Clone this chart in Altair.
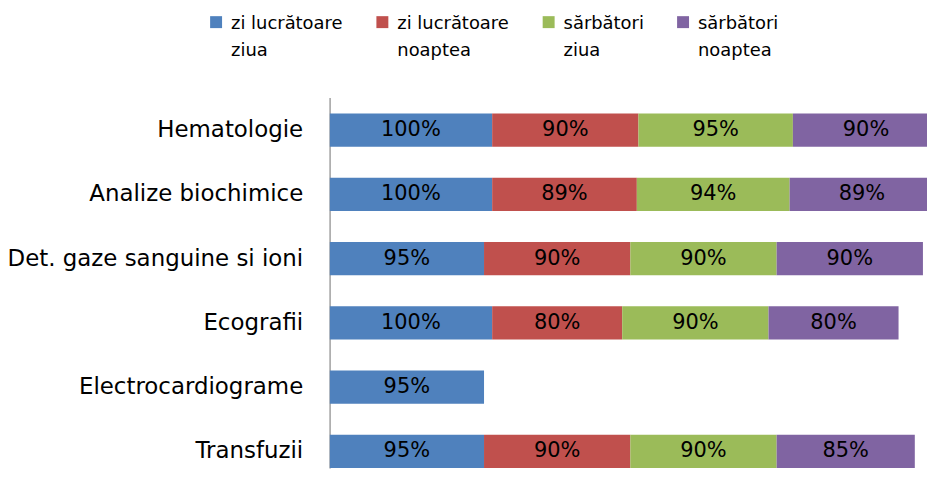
import altair as alt
import pandas as pd

categories = ["Hematologie", "Analize biochimice", "Det. gaze sanguine si ioni",
              "Ecografii\u00a0", "Electrocardiograme", "Transfuzii"]
series = ["zi lucrătoare|ziua", "zi lucrătoare|noaptea", "sărbători|ziua", "sărbători|noaptea"]
colors = ["#4F81BD", "#C0504D", "#9BBB59", "#8064A2"]

zi_lucratoare_ziua = [100, 100, 95, 100, 95, 95]
zi_lucratoare_noaptea = [90, 89, 90, 80, None, 90]
sarbatori_ziua = [95, 94, 90, 90, None, 90]
sarbatori_noaptea = [90, 89, 90, 80, None, 85]

rows = []
for si, vals in enumerate([zi_lucratoare_ziua, zi_lucratoare_noaptea, sarbatori_ziua, sarbatori_noaptea]):
    for c, v in zip(categories, vals):
        if v is not None:
            rows.append({"category": c, "series": series[si], "order": si, "value": v})
df = pd.DataFrame(rows)

base = alt.Chart(df).transform_stack(
    stack="value", groupby=["category"], sort=[alt.SortField("order")], as_=["x0", "x1"]
).transform_calculate(
    mid="(datum.x0 + datum.x1) / 2", label="datum.value + '%'"
)

xscale = alt.Scale(domain=[0, 367.5], nice=False, zero=True)
yscale = alt.Scale(paddingInner=0.484, paddingOuter=0.1235, align=1)

bars = base.mark_bar(clip=True).encode(
    x=alt.X("x0:Q", scale=xscale, axis=None),
    x2="x1:Q",
    y=alt.Y("category:N", sort=categories, scale=yscale, title=None,
            axis=alt.Axis(ticks=False, grid=False, domainColor="#A0A0A0", domainWidth=1.5,
                          labelFont="DejaVu Sans", labelFontSize=23, labelColor="black",
                          labelPadding=27, labelLimit=400, labelOffset=-7)),
    color=alt.Color("series:N", scale=alt.Scale(domain=series, range=colors),
                    legend=alt.Legend(orient="none", legendX=-123, legendY=-85,
                                      direction="horizontal", columns=4, columnPadding=30,
                                      labelOffset=6, symbolType="square", symbolSize=144,
                                      symbolStrokeWidth=0, labelFont="DejaVu Sans",
                                      labelFontSize=18, labelColor="black",
                                      labelExpr="split(datum.label, '|')",
                                      labelBaseline="alphabetic", labelLimit=300,
                                      title=None, padding=0, rowPadding=0)),
)

text = base.mark_text(font="DejaVu Sans", fontSize=21, color="black",
                      baseline="middle", align="center").encode(
    x=alt.X("mid:Q", scale=xscale, axis=None),
    y=alt.Y("category:N", sort=categories, scale=yscale),
    text="label:N",
)

chart = alt.layer(bars, text).properties(
    width=600, height=372,
    autosize=alt.AutoSizeParams(type="none"),
    padding={"left": 323, "top": 89, "right": 0, "bottom": 0},
).configure(
    style={"guide-label": {"dy": 7, "lineHeight": 26.6}},
    view=alt.ViewConfig(stroke=None),
)

chart.save("out.html", embed_options={"renderer": "svg", "actions": False})
